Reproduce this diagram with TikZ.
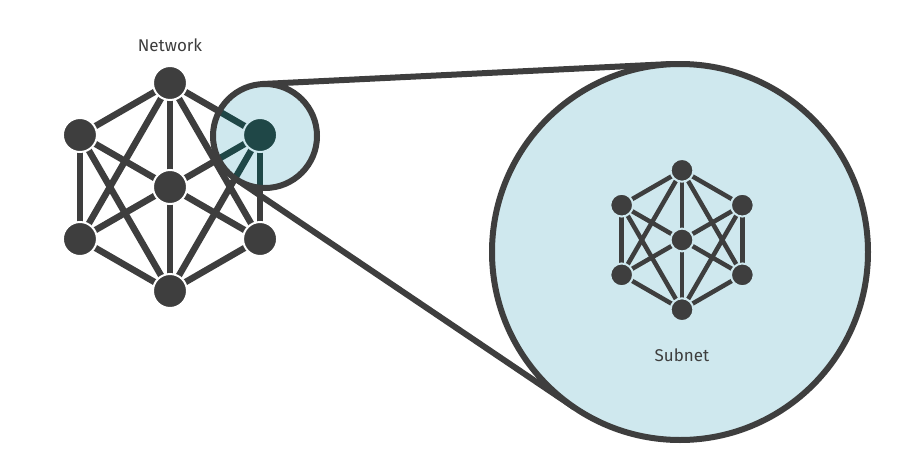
\documentclass[tikz,border=0pt]{standalone}
\usepackage{fontspec}
\setmainfont{Fira Sans}
\definecolor{netgray}{HTML}{3E3E3E}
\definecolor{lensblue}{HTML}{CFE8EE}
\definecolor{netteal}{HTML}{1F4747}
\tikzset{
  edge width/.store in = \edgewidth, edge width = 6.5pt,
  ring/.store in = \ringcolor, ring = white,
  netnode/.style = {circle, fill = #1, draw = \ringcolor, line width = 2pt, inner sep = 0pt, minimum size = 34pt},
  netedge/.style = {draw = #1, line width = \edgewidth},
  lens/.style = {draw = netgray, line width = 6pt, fill = lensblue},
  label/.style = {font = \fontsize{17}{20}\selectfont, text = netgray}
}
% hexagon graph: \netgraph{prefix}{colour}
\newcommand\netgraph[2]{
  \foreach \a/\n in {90/1,150/2,210/3,270/4,330/5,30/6}{
    \coordinate (#1\n) at (\a:104);
  }
  \coordinate (#1c) at (0,0);
  \foreach \u/\v in {1/2,2/3,3/4,4/5,5/6,6/1,1/4,1/3,1/5,4/2,4/6,
                     c/1,c/2,c/3,c/4,c/5,c/6}{
    \draw[netedge=#2] (#1\u) -- (#1\v);
  }
  \foreach \n in {1,...,6,c}{
    \node[netnode=#2] at (#1\n) {};
  }
}
\begin{document}
\begin{tikzpicture}[x=1pt, y=-1pt]
\useasboundingbox (0,0) rectangle (900,450);

\coordinate (small) at (265,136);
\coordinate (big) at (680,252);
% tangent points of the magnifier
\coordinate (ta) at (262.5,84);
\coordinate (tb) at (671,64);
\coordinate (tc) at (235.9,179.1);
\coordinate (td) at (574.9,407.9);

\draw[netgray, line width=6pt] (ta) -- (tb);
\draw[netgray, line width=6pt] (tc) -- (td);
\draw[lens] (big) circle (188);

% network
\begin{scope}[shift={(170,187)}]
  \netgraph{n}{netgray}
\end{scope}

% lens over the network
\fill[lensblue] (small) circle (52);
\begin{scope}
  \clip (small) circle (52);
  \begin{scope}[shift={(170,187)}, ring=lensblue]
    \netgraph{m}{netteal}
  \end{scope}
\end{scope}
\draw[netgray, line width=6pt] (small) circle (52);

% subnet
\begin{scope}[shift={(682,240)}, scale=0.67, edge width=4.5pt, ring=lensblue,
  every node/.append style={transform shape}]
  \netgraph{s}{netgray}
\end{scope}

\node[label] (netlabel) at (170,45) {Network};
\node[label] (sublabel) at (682,355) {Subnet};
\end{tikzpicture}
\end{document}
